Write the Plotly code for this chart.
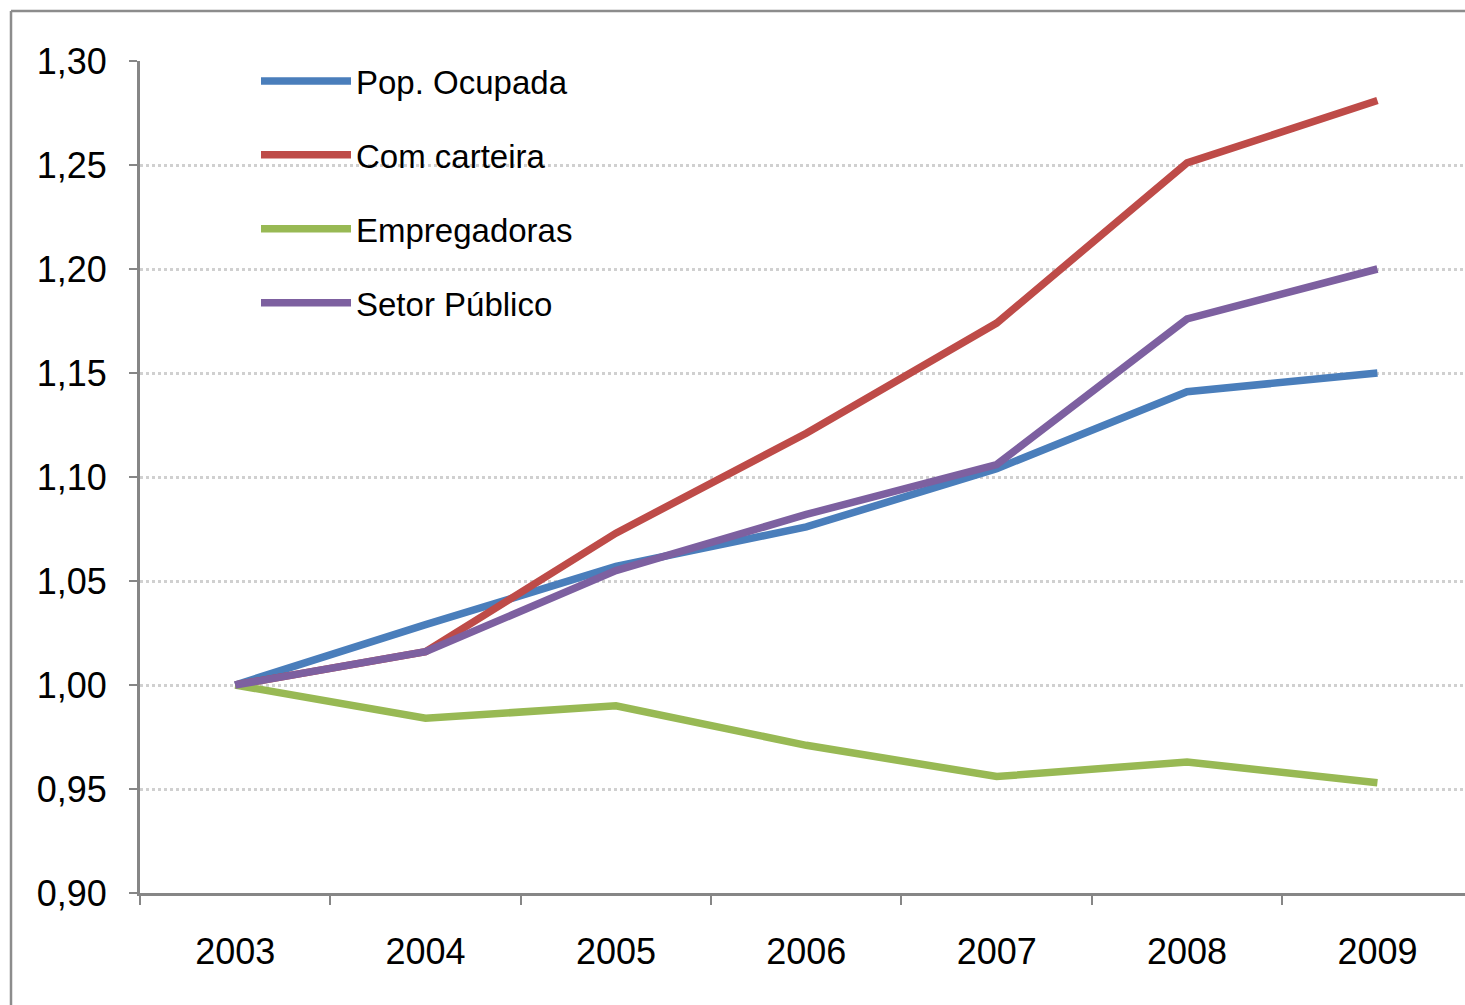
import plotly.graph_objects as go

years = ["2003", "2004", "2005", "2006", "2007", "2008", "2009"]
pop_ocupada = [1.000, 1.029, 1.057, 1.076, 1.104, 1.141, 1.150]
com_carteira = [1.000, 1.016, 1.073, 1.121, 1.174, 1.251, 1.281]
empregadoras = [1.000, 0.984, 0.990, 0.971, 0.956, 0.963, 0.953]
setor_publico = [1.000, 1.016, 1.055, 1.082, 1.106, 1.176, 1.200]

series = [
    ("Pop. Ocupada", pop_ocupada, "#4a7ebb"),
    ("Com carteira", com_carteira, "#be4b48"),
    ("Empregadoras", empregadoras, "#98b954"),
    ("Setor Público", setor_publico, "#7d60a0"),
]

W, H = 1465, 1005
ML, MR, MT, MB = 140, 0, 61, 112
PW = W - ML - MR
PH = H - MT - MB

fig = go.Figure()
for i, (name, vals, color) in enumerate(series):
    fig.add_trace(go.Scatter(
        x=years, y=vals, name=name, mode="lines",
        line=dict(color=color, width=7.5),
        legendgroup=f"g{i}",
    ))

axis_color = "#868686"
fig.update_layout(
    width=W, height=H,
    margin=dict(l=ML, r=MR, t=MT, b=MB, pad=0),
    paper_bgcolor="white", plot_bgcolor="white",
    separators=",.",
    font=dict(family="Liberation Sans, Arial, sans-serif", color="black", size=36),
    showlegend=True,
    legend=dict(
        x=(256 - ML) / PW, y=1 + (MT - 53) / PH, xanchor="left", yanchor="top",
        font=dict(size=33, color="black"),
        bgcolor="rgba(0,0,0,0)",
        itemwidth=90,
        tracegroupgap=28,
    ),
    xaxis=dict(
        type="category", range=[-0.5, 6.46],
        showline=True, linecolor=axis_color, linewidth=3,
        ticks="outside", ticklen=9, tickwidth=2, tickcolor=axis_color,
        tickson="boundaries", showgrid=False,
        tickfont=dict(size=36), ticklabelstandoff=25,
    ),
    yaxis=dict(
        range=[0.90, 1.30], dtick=0.05, tick0=0.90, tickformat=".2f",
        showline=True, linecolor=axis_color, linewidth=3,
        ticks="outside", ticklen=8, tickwidth=2, tickcolor=axis_color,
        showgrid=True, gridcolor="#d0d0d0", gridwidth=2.5, griddash="dot",
        zeroline=False, tickfont=dict(size=36), ticklabelstandoff=15,
    ),
    shapes=[
        dict(type="line", xref="paper", yref="paper",
             x0=(11 - ML) / PW, x1=(11 - ML) / PW,
             y0=1 + (MT - 11) / PH, y1=1 + (MT - H - 5) / PH,
             line=dict(color="#8c8c8c", width=2.5)),
        dict(type="line", xref="paper", yref="paper",
             x0=(11 - ML) / PW, x1=(W + 5 - ML) / PW,
             y0=1 + (MT - 11) / PH, y1=1 + (MT - 11) / PH,
             line=dict(color="#8c8c8c", width=2.5)),
    ],
)

fig.write_html("out.html")
